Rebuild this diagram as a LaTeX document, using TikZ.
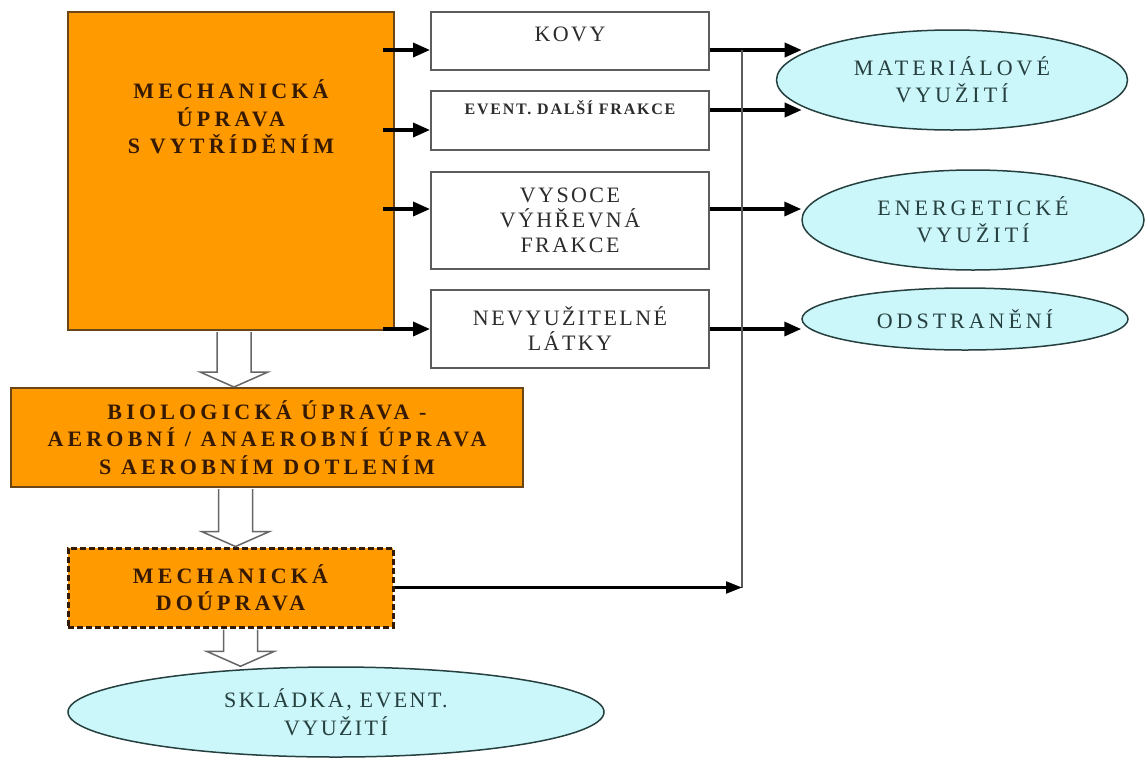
\documentclass[tikz,border=0pt]{standalone}
\usepackage{fontspec}
\setmainfont{Liberation Serif}
\newfontfamily\oranzfont[LetterSpace=19]{Liberation Serif}
\newfontfamily\boxfont[LetterSpace=11]{Liberation Serif}
\newfontfamily\elfont[LetterSpace=18]{Liberation Serif}
\usetikzlibrary{arrows.meta,positioning,calc,shapes.geometric}

\definecolor{oranz}{HTML}{FF9A00}
\definecolor{oranzline}{HTML}{6A4516}
\definecolor{oranztext}{HTML}{351900}
\definecolor{azur}{HTML}{CCF7FA}
\definecolor{eltext}{HTML}{263F3F}
\definecolor{boxtext}{HTML}{2C2C2C}
\definecolor{linka}{HTML}{5C5C5C}

\begin{document}
\begin{tikzpicture}[x=1pt, y=-1pt, > = {Triangle[length=17pt,width=14pt]}]
            % Styly
            \tikzstyle{obox}=[rectangle, draw=oranzline, line width=2pt, fill=oranz, inner sep=0pt]
            \tikzstyle{otext}=[font=\oranzfont\bfseries\fontsize{22}{27.5}\selectfont, text=oranztext, align=center]
            \tikzstyle{rbox}=[rectangle, draw=linka, line width=2pt, fill=white, minimum width=278pt, inner sep=0pt, font=\boxfont\fontsize{22}{25}\selectfont, text=boxtext, align=center]
            \tikzstyle{elips}=[ellipse, draw=eltext, line width=1.5pt, fill=azur, inner sep=0pt, font=\elfont\fontsize{22}{27}\selectfont, text=eltext, align=center]
            \tikzstyle{silna}=[line width=3.5pt, black]
            \tikzstyle{duta}=[draw=gray!80!black, line width=1.5pt, fill=white,
              to path={let \p1=(\tikztostart), \p2=(\tikztotarget) in
                (\x1-17pt,\y1-1pt) -- (\x1-17pt,\y2+15pt) -- (\x1-34pt,\y2+15pt) -- (\x1,\y2)
                -- (\x1+34pt,\y2+15pt) -- (\x1+17pt,\y2+15pt) -- (\x1+17pt,\y1-1pt)}]

            \useasboundingbox (0,0) rectangle (1145,761);

            % Levá část
            \node[obox, minimum width=326pt, minimum height=318pt] (mech) at (231,171) {};
            \node[otext] (mechtext) at (231,117) {MECHANICKÁ\\ÚPRAVA\\S VYTŘÍDĚNÍM};
            \node[obox, otext, minimum width=512pt, minimum height=99pt] (bio) at (267,437.5) {BIOLOGICKÁ ÚPRAVA -\\AEROBNÍ / ANAEROBNÍ ÚPRAVA\\S AEROBNÍM DOTLENÍM};
            \node[obox, otext, draw=oranztext, line width=3pt, dash pattern=on 6pt off 3pt, minimum width=325pt, minimum height=79pt] (dou) at (230.5,587.5) {MECHANICKÁ\\DOÚPRAVA};
            \node[elips, font=\boxfont\fontsize{22}{28}\selectfont, minimum width=536pt, minimum height=90pt] (skl) at (336,712) {SKLÁDKA, EVENT.\\VYUŽITÍ};

            % Frakce
            \node[rbox, minimum height=58pt, text height=15pt, text depth=14pt] (kovy) at (570,41) {KOVY};
            \node[rbox, minimum height=59pt, font=\boxfont\bfseries\fontsize{16}{19}\selectfont, text height=11pt, text depth=23pt] (event) at (570,120.5) {EVENT. DALŠÍ FRAKCE};
            \node[rbox, minimum height=97pt] (vys) at (570,220.5) {VYSOCE\\VÝHŘEVNÁ\\FRAKCE};
            \node[rbox, minimum height=78pt] (nev) at (570,329) {NEVYUŽITELNÉ\\LÁTKY};

            % Využití
            \node[elips, minimum width=351pt, minimum height=100pt] (mat) at (952,80) {MATERIÁLOVÉ\\VYUŽITÍ};
            \node[elips, minimum width=342pt, minimum height=100pt] (ener) at (973,220) {ENERGETICKÉ\\VYUŽITÍ};
            \node[elips, minimum width=326pt, minimum height=62pt] (odst) at (965,319) {ODSTRANĚNÍ};

            % Body napojení
            \coordinate (kovyin) at ($(kovy.west)+(0,9)$);
            \coordinate (eventin) at ($(event.west)+(0,9.5)$);
            \coordinate (eventout) at ($(event.east)+(0,-10.5)$);
            \coordinate (vysin) at ($(vys.west)+(0,-11.5)$);
            \coordinate (vysout) at ($(vys.east)+(0,-11.5)$);
            \coordinate (kovyout) at ($(kovy.east)+(0,9)$);
            \coordinate (bus) at (742,50);

            % Šipky
            \draw[silna,->] ($(kovyin -| mech.east)+(-12,0)$) -- (kovyin);
            \draw[silna,->] ($(eventin -| mech.east)+(-12,0)$) -- (eventin);
            \draw[silna,->] ($(vysin -| mech.east)+(-12,0)$) -- (vysin);
            \draw[silna,->] ($(nev.west -| mech.east)+(-12,0)$) -- (nev.west);

            \draw[silna,->] (kovyout) -- (kovyout -| mat.170);
            \draw[silna,->] (eventout) -- (eventout -| mat.190);
            \draw[silna,->] (vysout) -- (vysout -| ener.west);
            \draw[silna,->] (nev.east) -- (nev.east -| odst.west);

            \draw[linka, line width=2pt] (bus) -- (dou.east -| bus);
            \draw[line width=2.2pt, -{Triangle[length=16pt,width=12pt]}] (dou.east) -- (dou.east -| bus);

            \draw[duta] ($(mech.south)+(3,0)$) to (bio.north);
            \draw[duta] ($(dou.north |- bio.south)+(5,0)$) to (dou.north);
            \draw[duta] ($(dou.south)+(10,0)$) to (skl.north);
\end{tikzpicture}
\end{document}
